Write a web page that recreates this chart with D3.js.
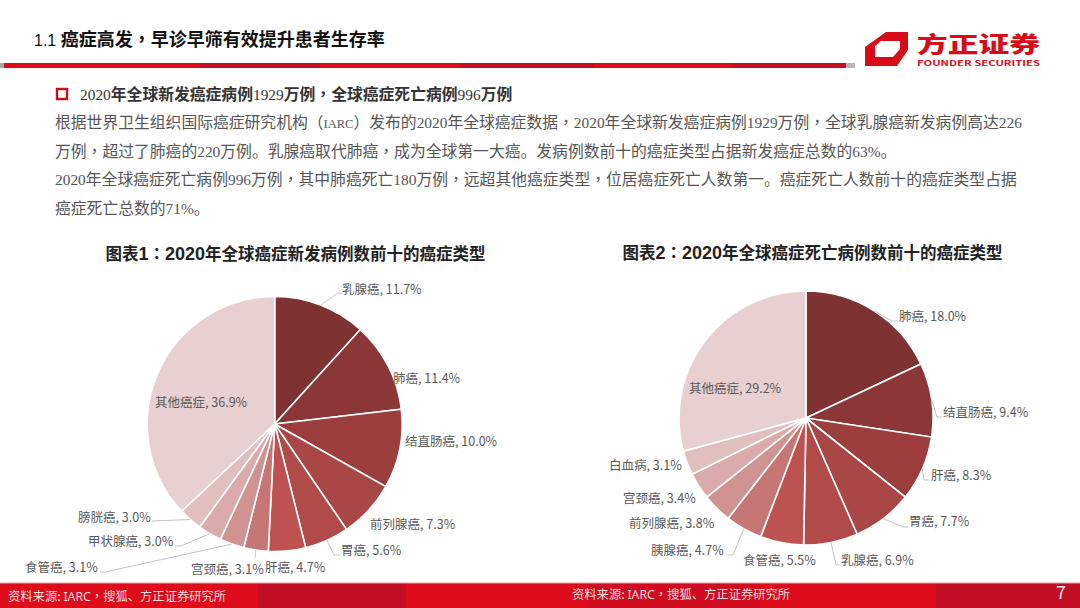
<!DOCTYPE html>
<html><head><meta charset="utf-8">
<script src="https://cdn.jsdelivr.net/npm/d3@7"></script>
<style>html,body{margin:0;padding:0;background:#fff;overflow:hidden}svg{display:block}
text{font-family:"Noto Sans CJK SC","Noto Sans",sans-serif}</style></head><body>
<svg id="c" width="1080" height="608"></svg>
<script>
const C="\uFF0C", K="\uFF1A", LP="\uFF08", RP="\uFF09";
const pageNo="1.1 ";
const pageTitle=`癌症高发${C}早诊早筛有效提升患者生存率`;
const headline=`2020年全球新发癌症病例1929万例${C}全球癌症死亡病例996万例`;
const bodyLines=[`根据世界卫生组织国际癌症研究机构${LP}IARC${RP}发布的2020年全球癌症数据${C}2020年全球新发癌症病例1929万例${C}全球乳腺癌新发病例高达226`,
`万例${C}超过了肺癌的220万例。乳腺癌取代肺癌${C}成为全球第一大癌。发病例数前十的癌症类型占据新发癌症总数的63%。`,
`2020年全球癌症死亡病例996万例${C}其中肺癌死亡180万例${C}远超其他癌症类型${C}位居癌症死亡人数第一。癌症死亡人数前十的癌症类型占据`,
"癌症死亡总数的71%。"];
const title1=`图表1${K}2020年全球癌症新发病例数前十的癌症类型`;
const title2=`图表2${K}2020年全球癌症死亡病例数前十的癌症类型`;
const names1=["乳腺癌","肺癌","结直肠癌","前列腺癌","胃癌","肝癌","宫颈癌","食管癌","甲状腺癌","膀胱癌","其他癌症"];
const vals1=[11.7,11.4,10.0,7.3,5.6,4.7,3.1,3.1,3.0,3.0,36.9];
const names2=["肺癌","结直肠癌","肝癌","胃癌","乳腺癌","食管癌","胰腺癌","前列腺癌","宫颈癌","白血病","其他癌症"];
const vals2=[18.0,9.4,8.3,7.7,6.9,5.5,4.7,3.8,3.4,3.1,29.2];
const sliceColors=["#7f3232","#8b3737","#9c3e3e","#a94646","#b04b49","#bd5250","#c67775","#d09391","#dbabab","#e2bfbf","#e8cfd0"];
const labelAnchors1=[[342,289],[393,378],[405,441],[370,524],[341,550],[265,567],[191,569],[25,567],[88,541],[78,517],[155,402]];
const leaders1=[[[338,293],[342,293]],[],[],[],[[334,555],[340,555]],[],[[255,558]],[[105,572],[100,572]],[[181,546],[175,546]],[[152,521]],[]];
const labelAnchors2=[[899,316],[943,412],[931,475],[909,521],[841,560],[743,560],[651,550],[629,523],[623,498],[609,465],[689,388]];
const leaders2=[[[892,321],[898,321]],[[937,417],[942,417]],[[924,480],[929,480]],[[903,527],[908,527]],[[836,565],[840,565]],[],[[733,555],[727,555]],[],[],[],[]];
const headerBands=[[4,200,"#dc0c1a"],[200,320,"#c20f26"],[320,461,"#dc0c1a"],[461,594,"#c20f26"],[594,733,"#dc0c1a"],[733,846,"#c20f26"]];
const footerBands=[[0,258,"#dc0c1a"],[258,406,"#c20f26"],[406,588,"#dc0c1a"],[588,760,"#d00d20"],[760,936,"#dc0c1a"],[936,1080,"#c20f26"]];

const svg=d3.select("#c");
// write a string as runs: latin in latinFont at latinSize, centred full-width punctuation from the TC face
function rich(t,s,latinFont,latinSize){
  s.split(/([A-Za-z0-9%.]+|[\uFF0C\uFF1A])/).forEach(p=>{
    if(!p)return;
    const tp=t.append("tspan").text(p);
    if(/^[A-Za-z0-9%.]+$/.test(p)){
      tp.attr("font-family",latinFont);
      if(latinSize)tp.attr("font-size",p==="IARC"&&latinSize===15.4?12.5:latinSize);
    }
    else if(/^[\uFF0C\uFF1A]$/.test(p))tp.attr("font-family","'Noto Sans CJK TC'");
  });
  return t;
}
const serif="'Liberation Serif',serif", sans="'Liberation Sans',sans-serif";
// header
const tt=svg.append("text").attr("x",34).attr("y",46).attr("fill","#111");
tt.append("tspan").attr("font-family",sans).attr("font-size",16).style("white-space","pre").text(pageNo);
const tb=tt.append("tspan").attr("font-size",18).attr("font-weight",700);
rich(tb,pageTitle,sans);
svg.append("rect").attr("x",0).attr("y",63).attr("width",4).attr("height",5).attr("fill","#a9a9ad");
svg.append("rect").attr("x",846).attr("y",63).attr("width",9).attr("height",5).attr("fill","#b4b4ba");
headerBands.forEach(b=>svg.append("rect").attr("x",b[0]).attr("y",63).attr("width",b[1]-b[0]).attr("height",5).attr("fill",b[2]));
// logo
svg.append("path").attr("fill-rule","evenodd").attr("fill","#d80c18")
 .attr("d","M886 32H908V50L897 66H865V47ZM881 41H900V49L893 57H875V46Z");
svg.append("text").attr("x",917).attr("y",51.5).attr("font-size",22).attr("font-weight",900).attr("fill","#d80c18").attr("textLength",123).attr("lengthAdjust","spacingAndGlyphs").text("方正证券");
svg.append("text").attr("x",917).attr("y",65.5).attr("font-family",sans).attr("font-size",7).attr("font-weight",700).attr("fill","#d80c18").attr("textLength",123).attr("lengthAdjust","spacingAndGlyphs").text("FOUNDER SECURITIES");
// headline
svg.append("rect").attr("x",57).attr("y",89).attr("width",10).attr("height",10).attr("fill","none").attr("stroke","#c8101a").attr("stroke-width",2.4);
const ht=svg.append("text").attr("x",80).attr("y",99.5).attr("font-size",15.8).attr("fill","#333");
headline.split(/(\d+)/).forEach(p=>{
  if(!p)return;
  if(/^\d+$/.test(p))ht.append("tspan").attr("font-family",serif).attr("font-size",15.4).text(p);
  else rich(ht.append("tspan").attr("font-weight",700),p,serif);
});
// body
bodyLines.forEach((l,i)=>{
  rich(svg.append("text").attr("x",55).attr("y",[128,156.5,184.5,213.5][i]).attr("font-size",15.8).attr("fill","#555"),l,serif,15.4);
});
// pies
function pie(cx,cy,r,names,vals,anchors,leaders,title,tx,ty){
  rich(svg.append("text").attr("x",tx).attr("y",ty).attr("font-size",16.5).attr("font-weight",700).attr("fill","#222"),title,sans,18);
  const arcs=d3.pie().sort(null)(vals);
  const arc=d3.arc().innerRadius(0).outerRadius(r);
  const g=svg.append("g").attr("transform",`translate(${cx},${cy})`);
  g.selectAll("path").data(arcs).join("path").attr("d",arc).attr("fill",(d,i)=>sliceColors[i]).attr("stroke","#fff").attr("stroke-width",1.6);
  arcs.forEach((a,i)=>{
    if(!leaders[i].length)return;
    const m=(a.startAngle+a.endAngle)/2;
    const start=[cx+r*Math.sin(m),cy-r*Math.cos(m)];
    svg.append("polyline").attr("points",[start,...leaders[i]].join(" ")).attr("fill","none").attr("stroke","#bbb").attr("stroke-width",.9);
  });
  names.forEach((n,i)=>{svg.append("text").attr("x",anchors[i][0]).attr("y",anchors[i][1]+4.5).attr("font-size",12.5).attr("fill","#595959").text(`${n}, ${vals[i].toFixed(1)}%`)});
}
pie(274.7,424,127.5,names1,vals1,labelAnchors1,leaders1,title1,105.5,260);
pie(806,418,127,names2,vals2,labelAnchors2,leaders2,title2,622.5,259);
// footer
footerBands.forEach(b=>svg.append("rect").attr("x",b[0]).attr("y",583).attr("width",b[1]-b[0]).attr("height",25).attr("fill",b[2]));
svg.append("rect").attr("x",0).attr("y",582.5).attr("width",1080).attr("height",1).attr("fill","#e8a0a4");
function foot(x,y){rich(svg.append("text").attr("x",x).attr("y",y).attr("font-size",12.3).attr("fill","#f6dcdc"),`资料来源: IARC${C}搜狐、方正证券研究所`,"'Noto Sans',sans-serif");}
foot(8,601);foot(572,599);
svg.append("text").attr("x",1061).attr("y",599).attr("font-family",sans).attr("font-size",18).attr("text-anchor","middle").attr("fill","#f6e6e6").text("7");
</script></body></html>
